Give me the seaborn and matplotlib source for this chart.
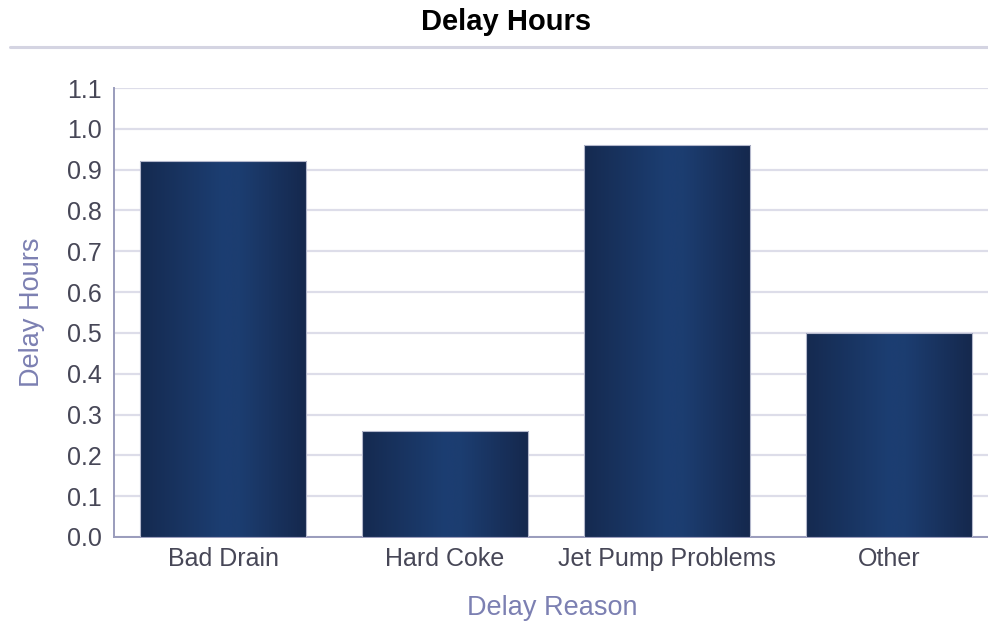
import matplotlib
matplotlib.use("Agg")
import matplotlib.pyplot as plt
import seaborn as sns
import numpy as np
import pandas as pd
from matplotlib.colors import LinearSegmentedColormap
from matplotlib.lines import Line2D

reasons = ["Bad Drain", "Hard Coke", "Jet Pump Problems", "Other"]
hours = [0.92, 0.26, 0.96, 0.50]
yticks = [0.0, 0.1, 0.2, 0.3, 0.4, 0.5, 0.6, 0.7, 0.8, 0.9, 1.0, 1.1]

sns.set_theme(style="white")
plt.rcParams['font.family'] = ['Liberation Sans', 'DejaVu Sans']

df = pd.DataFrame({"Delay Reason": reasons, "Delay Hours": hours})

fig = plt.figure(figsize=(9.88, 6.27), dpi=100)
ax = fig.add_axes([114/988, 1-537/627, 1-114/988, (537-88)/627])

sns.barplot(data=df, x="Delay Reason", y="Delay Hours", color="#1b3a6b",
            width=0.75, ax=ax, zorder=3)

cmap = LinearSegmentedColormap.from_list(
    "bar", [(0.0, "#152a50"), (0.5, "#1c3e72"), (0.6, "#1c3d70"), (1.0, "#15284d")])
grad = np.linspace(0, 1, 256).reshape(1, -1)
for p in ax.patches:
    x0, y0 = p.get_x(), p.get_y()
    w, h = p.get_width(), p.get_height()
    im = ax.imshow(grad, cmap=cmap, aspect="auto", extent=[x0, x0 + w, y0, y0 + h],
                   zorder=3, interpolation="bicubic")
    im.set_clip_path(p)
    p.set_facecolor("none")
    p.set_edgecolor("#b4b8cc")
    p.set_linewidth(0.8)
    p.set_zorder(4)

ax.set_xlim(-0.491, 3.446)
ax.set_ylim(0, 1.1)
ax.set_yticks(yticks)
ax.set_yticklabels([f"{v:.1f}" for v in yticks])
ax.yaxis.grid(True, color="#dddde9", linewidth=1.6, zorder=0)
ax.xaxis.grid(False)
ax.set_axisbelow(True)

for s in ["top", "right"]:
    ax.spines[s].set_visible(False)
ax.spines["left"].set_color("#9a9cbc")
ax.spines["bottom"].set_color("#9a9cbc")
ax.spines["left"].set_linewidth(1.4)
ax.spines["bottom"].set_linewidth(1.4)

ax.tick_params(axis="y", length=0, pad=9, labelsize=18, labelcolor="#474757")
ax.tick_params(axis="x", length=0, pad=7, labelsize=18, labelcolor="#474757")

ax.set_xlabel("Delay Reason", fontsize=19.5, color="#7c80b2")
ax.set_ylabel("Delay Hours", fontsize=19.5, color="#7c80b2")
ax.xaxis.set_label_coords((552-114)/(988-114), -(608-537)/(537-88), transform=ax.transAxes)
ax.yaxis.set_label_coords(-(114-32)/(988-114), (537-312)/(537-88), transform=ax.transAxes)
ax.xaxis.label.set_verticalalignment("center")
ax.yaxis.label.set_verticalalignment("center")

fig.text(506/988, 1-22/627, "Delay Hours", ha="center", va="center",
         fontsize=21, fontweight="bold", color="#000000")
fig.add_artist(Line2D([10/988, 1.0], [1-47/627, 1-47/627], color="#d4d4e2",
                      linewidth=2.2, transform=fig.transFigure))

fig.savefig("out.png", dpi=100)
